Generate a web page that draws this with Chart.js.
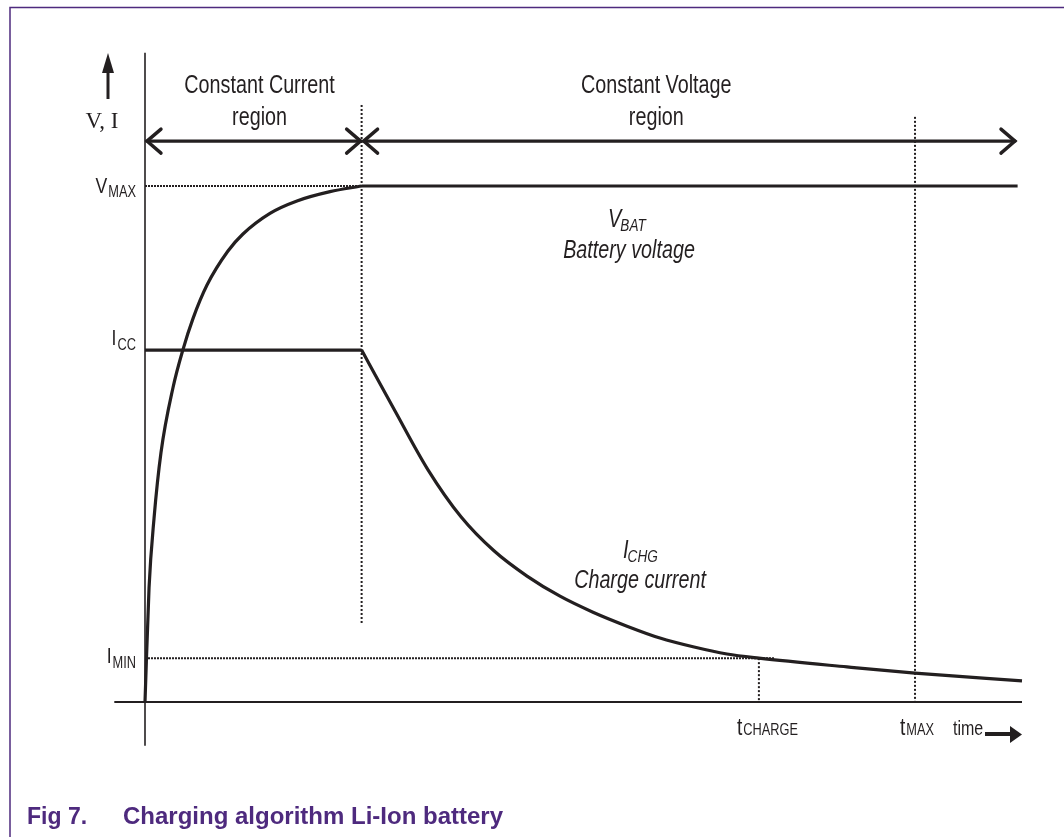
<!DOCTYPE html>
<html><head><meta charset="utf-8">
<script src="https://cdn.jsdelivr.net/npm/chart.js@4.4.1/dist/chart.umd.min.js"></script>
<style>html,body{margin:0;padding:0;background:#fff;}canvas{display:block;}</style>
</head><body>
<canvas id="c" width="1064" height="837"></canvas>
<script>
// Time axis: percent of plotted time span. Level axis: percent of V_MAX (schematic V and I levels).
const T_CV = 24.7;       // end of constant-current phase
const T_CHARGE = 70;     // current reaches I_MIN
const T_MAX = 87.8;      // safety timer
const T_END = 100;
const V_MAX = 100;
const I_CC = 68.2;
const I_MIN = 8.5;

// Battery voltage rise during constant-current phase
const vbatTime  = [0, 0.46, 1.03, 1.82, 3.19, 4.33, 5.47, 7.07, 9.46, 11.17, 14.25, 17.33, 21.1, 24.7];
const vbatLevel = [0, 22.1, 35.6, 48.3, 60.9, 68.3, 74.3, 80.8, 87.4, 90.7, 94.7, 97.1, 98.9, 100];
// Charge current decay during constant-voltage phase
const ichgTime  = [24.7, 28.51, 32.27, 36.03, 39.79, 43.56, 47.32, 51.08, 54.96, 58.72, 62.49, 66.36, 70.0, 80.05, 87.8, 100];
const ichgLevel = [68.2, 56.4, 45.0, 35.9, 29.3, 24.4, 20.5, 17.4, 14.7, 12.4, 10.7, 9.3, 8.5, 6.8, 5.6, 4.1];

const levelLabels = [['V', 'MAX'], ['I', 'CC'], ['I', 'MIN']];
const levelValues = [V_MAX, I_CC, I_MIN];
const timeLabels = [['t', 'CHARGE'], ['t', 'MAX']];
const timeValues = [T_CHARGE, T_MAX];
const regionTitles = ['Constant Current', 'Constant Voltage'];
const regionSub = ['region', 'region'];
const curveNames = [['V', 'BAT', 'Battery voltage'], ['I', 'CHG', 'Charge current']];
const axisName = 'V, I';
const timeName = 'time';
const captionNum = 'Fig 7.';
const captionText = 'Charging algorithm Li-Ion battery';

const INK = '#231f20';
const PURPLE = '#4e2a7e';
const SANS = '"Liberation Sans", Arial, Helvetica, sans-serif';
const SX = 0.8; // condensed look

function pts(xs, ys) { return xs.map((x, i) => ({x: x, y: ys[i]})); }
function seg(x1, y1, x2, y2) { return [{x: x1, y: y1}, {x: x2, y: y2}]; }

const dotted = (data, vertical) => ({
  data, borderColor: INK, borderWidth: 2, borderDash: vertical ? [2, 2] : [2, 1],
  pointRadius: 0, showLine: true, clip: false, order: 5
});
const solid = (data, extra) => Object.assign({
  data, borderColor: INK, borderWidth: 3.2, pointRadius: 0, showLine: true, clip: false,
  borderCapStyle: 'butt', borderJoinStyle: 'round', order: 1
}, extra || {});

const datasets = [
  dotted(seg(0, V_MAX, 71.8, V_MAX), false),
  dotted(seg(0, I_MIN, 71.8, I_MIN), false),
  dotted(seg(T_CV, 115.7, T_CV, 15.3), true),
  dotted(seg(T_CHARGE, I_MIN, T_CHARGE, 0), true),
  dotted(seg(T_MAX, 113.4, T_MAX, 0), true),
  solid(pts(vbatTime, vbatLevel), {cubicInterpolationMode: 'monotone'}),
  solid(seg(T_CV, V_MAX, 99.5, V_MAX)),
  solid(seg(0, I_CC, T_CV, I_CC)),
  solid(pts(ichgTime, ichgLevel), {cubicInterpolationMode: 'monotone'})
];

function txt(ctx, s, x, y, font, align, sx) {
  ctx.save();
  ctx.font = font;
  const w = ctx.measureText(s).width * sx;
  const x0 = align === 'center' ? x - w / 2 : (align === 'right' ? x - w : x);
  ctx.translate(x0, y);
  ctx.scale(sx, 1);
  ctx.textAlign = 'left';
  ctx.fillText(s, 0, 0);
  ctx.restore();
  return w;
}
function width(ctx, s, font, sx) { ctx.save(); ctx.font = font; const w = ctx.measureText(s).width * sx; ctx.restore(); return w; }

function subText(ctx, main, sub, x, y, mainFont, subFont, drop, align, gap) {
  const w1 = width(ctx, main, mainFont, SX), w2 = width(ctx, sub, subFont, SX);
  const g = gap || 0;
  let x0 = x;
  if (align === 'right') x0 = x - w1 - w2 - g;
  else if (align === 'center') x0 = x - (w1 + w2 + g) / 2;
  txt(ctx, main, x0, y, mainFont, 'left', SX);
  txt(ctx, sub, x0 + w1 + g, y + drop, subFont, 'left', SX);
}

function chevron(ctx, tx, ty, dir, dx, dy) {
  ctx.beginPath();
  ctx.moveTo(tx - dir * dx, ty - dy);
  ctx.lineTo(tx, ty);
  ctx.lineTo(tx - dir * dx, ty + dy);
  ctx.stroke();
}

const diagramPlugin = {
  id: 'diagram',
  beforeDatasetsDraw(chart) {
    const ctx = chart.ctx, X = v => chart.scales.x.getPixelForValue(v), Y = v => chart.scales.y.getPixelForValue(v);
    ctx.save();
    // frame
    ctx.strokeStyle = PURPLE; ctx.lineWidth = 1.5;
    ctx.beginPath(); ctx.moveTo(10, 837); ctx.lineTo(10, 7.5); ctx.lineTo(1064, 7.5); ctx.stroke();
    // axes
    ctx.strokeStyle = INK;
    ctx.lineWidth = 1.6;
    ctx.beginPath(); ctx.moveTo(X(0), Y(125.8)); ctx.lineTo(X(0), Y(-8.5)); ctx.stroke();
    ctx.lineWidth = 2;
    ctx.beginPath(); ctx.moveTo(X(-3.5), Y(0)); ctx.lineTo(X(T_END), Y(0)); ctx.stroke();
    ctx.restore();
  },
  afterDatasetsDraw(chart) {
    const ctx = chart.ctx, X = v => chart.scales.x.getPixelForValue(v), Y = v => chart.scales.y.getPixelForValue(v);
    ctx.save();
    ctx.fillStyle = INK; ctx.strokeStyle = INK;
    ctx.textBaseline = 'alphabetic';

    // region double arrows
    const ay = Y(108.7);
    ctx.lineWidth = 3.4; ctx.lineCap = 'round'; ctx.lineJoin = 'miter';
    ctx.beginPath(); ctx.moveTo(X(0) + 2, ay); ctx.lineTo(X(T_CV) - 1, ay); ctx.stroke();
    ctx.beginPath(); ctx.moveTo(X(T_CV) + 2, ay); ctx.lineTo(X(99.2), ay); ctx.stroke();
    chevron(ctx, X(0) + 2, ay, -1, 14, 12);
    chevron(ctx, X(T_CV) - 1, ay, 1, 14, 12);
    chevron(ctx, X(T_CV) + 2, ay, -1, 14, 12);
    chevron(ctx, X(99.2), ay, 1, 14, 12);

    // region labels
    const rx = [13.06, 58.3];
    for (let i = 0; i < 2; i++) {
      txt(ctx, regionTitles[i], X(rx[i]), 93, '25px ' + SANS, 'center', 0.79);
      txt(ctx, regionSub[i], X(rx[i]), 125, '25px ' + SANS, 'center', 0.79);
    }

    // vertical axis arrow + label
    ctx.lineWidth = 3; ctx.lineCap = 'butt';
    ctx.beginPath(); ctx.moveTo(108, 99); ctx.lineTo(108, 70); ctx.stroke();
    ctx.beginPath(); ctx.moveTo(108, 53); ctx.lineTo(114, 73); ctx.lineTo(102, 73); ctx.closePath(); ctx.fill();
    txt(ctx, axisName, 102, 128, '23px "Liberation Serif", "Times New Roman", serif', 'center', 1);

    // level labels
    const lvlOff = [[7, 4], [-5, 5], [5, 5]];
    for (let i = 0; i < levelLabels.length; i++) {
      subText(ctx, levelLabels[i][0], levelLabels[i][1], X(0) - 9, Y(levelValues[i]) + lvlOff[i][0],
        '22px ' + SANS, '16px ' + SANS, lvlOff[i][1], 'right', 1);
    }

    // time labels
    const tOff = [-22, -15];
    for (let i = 0; i < timeLabels.length; i++) {
      subText(ctx, timeLabels[i][0], timeLabels[i][1], X(timeValues[i]) + tOff[i], Y(0) + 33,
        '24px ' + SANS, '16px ' + SANS, 0, 'left', 1);
    }

    // time label + arrow
    txt(ctx, timeName, 953, 735, '20px ' + SANS, 'left', SX);
    ctx.lineWidth = 4;
    ctx.beginPath(); ctx.moveTo(985, 734); ctx.lineTo(1012, 734); ctx.stroke();
    ctx.beginPath(); ctx.moveTo(1022, 734.5); ctx.lineTo(1010, 726); ctx.lineTo(1010, 743); ctx.closePath(); ctx.fill();

    // curve names (italic)
    subText(ctx, curveNames[0][0], curveNames[0][1], 608, 227, 'italic 25px ' + SANS, 'italic 17px ' + SANS, 4, 'left', -1);
    txt(ctx, curveNames[0][2], 629, 258, 'italic 25px ' + SANS, 'center', 0.79);
    subText(ctx, curveNames[1][0], curveNames[1][1], 623, 558, 'italic 25px ' + SANS, 'italic 17px ' + SANS, 4, 'left', -1);
    txt(ctx, curveNames[1][2], 640, 588, 'italic 25px ' + SANS, 'center', 0.79);

    // caption
    ctx.fillStyle = PURPLE;
    txt(ctx, captionNum, 27, 824, 'bold 23px ' + SANS, 'left', 1);
    txt(ctx, captionText, 123, 824, 'bold 24px ' + SANS, 'left', 1);
    ctx.restore();
  }
};

new Chart(document.getElementById('c'), {
  type: 'scatter',
  data: {datasets},
  options: {
    responsive: false, animation: false, devicePixelRatio: 1,
    layout: {padding: {left: 145, right: 42, top: 186, bottom: 135}},
    scales: {
      x: {type: 'linear', min: 0, max: 100, display: false},
      y: {type: 'linear', min: 0, max: 100, display: false}
    },
    plugins: {legend: {display: false}, tooltip: {enabled: false}},
    events: []
  },
  plugins: [diagramPlugin]
});
</script>
</body></html>
